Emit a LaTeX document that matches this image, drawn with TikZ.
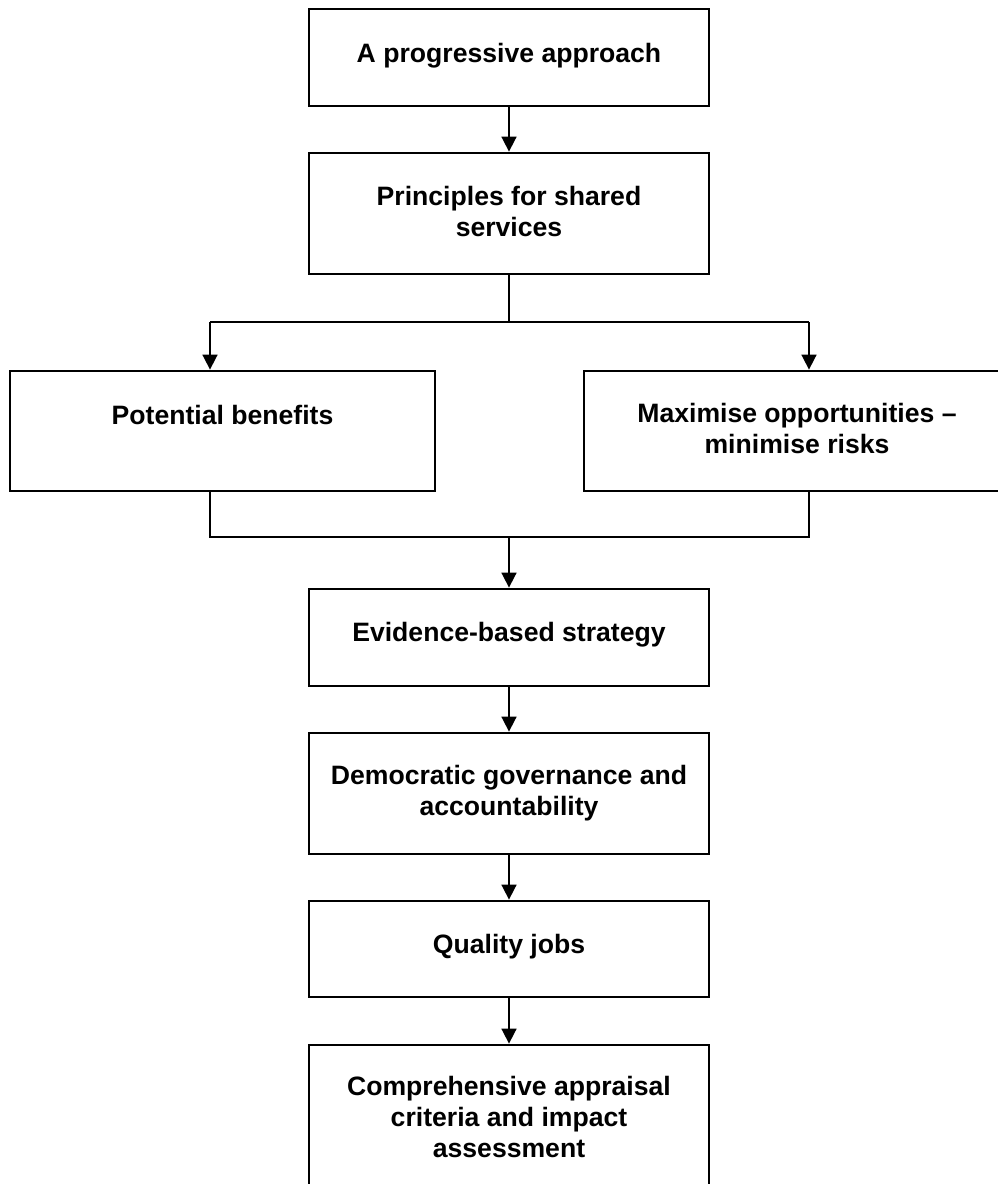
\documentclass[tikz,border=0pt]{standalone}
\usepackage{fontspec}
\setmainfont{Liberation Sans}
\usetikzlibrary{arrows.meta}
\begin{document}
\begin{tikzpicture}[x=1pt,y=-1pt,
  box/.style={draw=black,line width=2.8pt,rectangle,inner sep=0pt},
  lbl/.style={font=\bfseries\fontsize{26.6}{31}\selectfont,align=center,anchor=base,inner sep=0pt},
  conn/.style={draw=black,line width=1.7pt},
  arr/.style={conn,-{Triangle[length=15pt,width=15pt]}}]
\useasboundingbox (0,0) rectangle (997,1184);
% boxes
\node[box,minimum width=400pt,minimum height=97pt] (b1) at (509,57.5) {};
\node[box,minimum width=400pt,minimum height=121pt] (b2) at (509,213.5) {};
\node[box,minimum width=425pt,minimum height=120pt] (b3) at (222.5,431) {};
\node[box,minimum width=426pt,minimum height=120pt] (b4) at (797,431) {};
\node[box,minimum width=400pt,minimum height=97pt] (b5) at (509,637.5) {};
\node[box,minimum width=400pt,minimum height=121pt] (b6) at (509,793.5) {};
\node[box,minimum width=400pt,minimum height=96pt] (b7) at (509,949) {};
\node[box,minimum width=400pt,minimum height=160pt] (b8) at (509,1125) {};
% texts (anchor base = baseline of the last line)
\node[lbl] (t1) at (509,62) {A progressive approach};
\node[lbl] (t2) at (509,236) {Principles for shared\\services};
\node[lbl] (t3) at (222.5,424) {Potential benefits};
\node[lbl] (t4) at (797,453) {Maximise opportunities –\\minimise risks};
\node[lbl] (t5) at (509,641) {Evidence-based strategy};
\node[lbl] (t6) at (509,815) {Democratic governance and\\accountability};
\node[lbl] (t7) at (509,953) {Quality jobs};
\node[lbl] (t8) at (509,1157) {Comprehensive appraisal\\criteria and impact\\assessment};
% junction points
\coordinate (splitC) at (509,322);
\coordinate (splitL) at (210,322);
\coordinate (splitR) at (809,322);
\coordinate (joinL) at (210,537);
\coordinate (joinR) at (809,537);
\coordinate (joinC) at (509,537);
% connectors
\draw[arr] (b1.south) -- (b2.north);
\draw[conn] (b2.south) -- (splitC);
\draw[conn] (splitL) -- (splitR);
\draw[arr] (splitL) -- (splitL |- b3.north);
\draw[arr] (splitR) -- (splitR |- b4.north);
\draw[conn] (splitL |- b3.south) -- (joinL) -- (joinR) -- (splitR |- b4.south);
\draw[arr] (joinC) -- (b5.north);
\draw[arr] (b5.south) -- (b6.north);
\draw[arr] (b6.south) -- (b7.north);
\draw[arr] (b7.south) -- (b8.north);
\end{tikzpicture}
\end{document}
